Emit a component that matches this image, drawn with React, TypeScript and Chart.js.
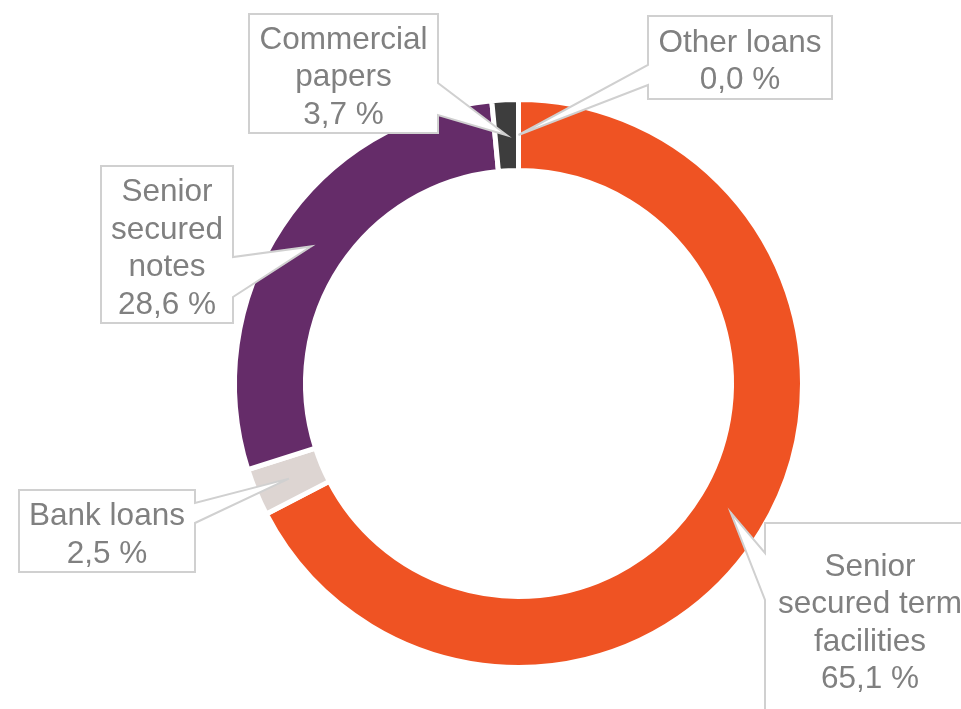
import React, { useEffect, useRef } from "react";
import { Chart, registerables } from "chart.js";

Chart.register(...registerables);

// ---- data ----
const categories: string[][] = [
  ["Senior", "secured term", "facilities"],
  ["Bank loans"],
  ["Senior", "secured", "notes"],
  ["Commercial", "papers"],
  ["Other loans"],
];
// slice sizes as drawn in the picture (percent of the ring)
const sliceShares = [67.4, 2.7, 28.4, 1.5, 0.0];
// percentages printed in the callouts
const percentLabels = ["65,1 %", "2,5 %", "28,6 %", "3,7 %", "0,0 %"];
const sliceColors = ["#EF5323", "#DDD5D2", "#652C69", "#3D3D3D", "#A6A6A6"];

// ---- callout layout (positions / styles only) ----
type Callout = { x: number; y: number; w: number; h: number; side: "left" | "right"; b1: number; b2: number };
const CALLOUTS: Callout[] = [
  { x: 765, y: 523, w: 210, h: 192, side: "left", b1: 553, b2: 600 },
  { x: 19, y: 490, w: 176, h: 82, side: "right", b1: 503, b2: 523 },
  { x: 101, y: 166, w: 132, h: 157, side: "right", b1: 257, b2: 297 },
  { x: 249, y: 14, w: 189, h: 119, side: "right", b1: 83, b2: 115 },
  { x: 648, y: 16, w: 184, h: 83, side: "left", b1: 65, b2: 85 },
];
const FONT_SIZE = 31.5;
const LINE_H = 37.5;
const TEXT_SHIFT = 1.5;
const TEXT_COLOR = "#808080";
const BOX_BORDER = "#D0D0D0";

const calloutPlugin = {
  id: "callouts",
  afterDatasetsDraw(chart: any) {
    const ctx: CanvasRenderingContext2D = chart.ctx;
    const meta = chart.getDatasetMeta(0);
    ctx.save();
    CALLOUTS.forEach((c, i) => {
      const arc = meta.data[i];
      if (!arc) return;
      const tip = arc.tooltipPosition(true);
      ctx.beginPath();
      if (c.side === "right") {
        ctx.moveTo(c.x, c.y);
        ctx.lineTo(c.x + c.w, c.y);
        ctx.lineTo(c.x + c.w, c.b1);
        ctx.lineTo(tip.x, tip.y);
        ctx.lineTo(c.x + c.w, c.b2);
        ctx.lineTo(c.x + c.w, c.y + c.h);
        ctx.lineTo(c.x, c.y + c.h);
      } else {
        ctx.moveTo(c.x, c.y);
        ctx.lineTo(c.x + c.w, c.y);
        ctx.lineTo(c.x + c.w, c.y + c.h);
        ctx.lineTo(c.x, c.y + c.h);
        ctx.lineTo(c.x, c.b2);
        ctx.lineTo(tip.x, tip.y);
        ctx.lineTo(c.x, c.b1);
      }
      ctx.closePath();
      ctx.fillStyle = "#FFFFFF";
      ctx.fill();
      ctx.lineWidth = 2;
      ctx.lineJoin = "miter";
      ctx.strokeStyle = BOX_BORDER;
      ctx.stroke();

      const lines = [...categories[i], percentLabels[i]];
      ctx.font = `${FONT_SIZE}px "Liberation Sans", Arial, sans-serif`;
      ctx.fillStyle = TEXT_COLOR;
      ctx.textAlign = "center";
      ctx.textBaseline = "alphabetic";
      const cx = c.x + c.w / 2;
      const cy = c.y + c.h / 2;
      const capHalf = (FONT_SIZE * 0.716) / 2;
      const first = cy - ((lines.length - 1) * LINE_H) / 2 + capHalf + TEXT_SHIFT;
      lines.forEach((t, k) => ctx.fillText(t, cx, first + k * LINE_H));
    });
    ctx.restore();
  },
};

export default function App() {
  const ref = useRef<HTMLCanvasElement | null>(null);
  useEffect(() => {
    document.body.style.margin = "0";
    const canvas = ref.current;
    if (!canvas) return;
    const chart = new Chart(canvas, {
      type: "doughnut",
      data: {
        labels: categories.map((l) => l.join(" ")),
        datasets: [
          {
            data: sliceShares,
            backgroundColor: sliceColors,
            borderColor: "#FFFFFF",
            borderWidth: 5,
            hoverBorderWidth: 5,
            hoverOffset: 0,
          },
        ],
      },
      options: {
        responsive: false,
        animation: false,
        devicePixelRatio: 1,
        cutout: "75%",
        rotation: 0,
        events: [],
        layout: { padding: { left: 232, top: 97, right: 156, bottom: 39 } },
        plugins: {
          legend: { display: false },
          tooltip: { enabled: false },
        },
      },
      plugins: [calloutPlugin],
    });
    return () => chart.destroy();
  }, []);
  return (
    <div style={{ position: "absolute", left: 0, top: 0, width: 961, height: 709, background: "#FFFFFF" }}>
      <canvas ref={ref} width={961} height={709} style={{ display: "block", width: 961, height: 709 }} />
    </div>
  );
}
